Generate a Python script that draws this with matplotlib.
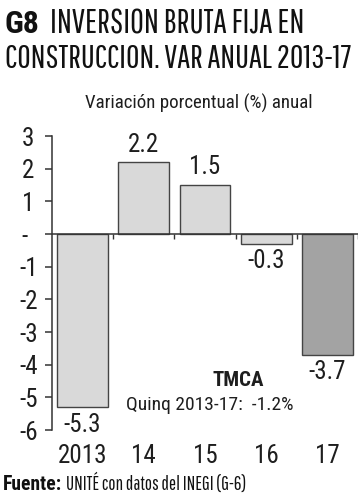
import matplotlib
matplotlib.use("Agg")
import matplotlib.pyplot as plt
import numpy as np

plt.rcParams['font.family'] = ['Roboto Condensed', 'DejaVu Sans']

years = ["2013", "14", "15", "16", "17"]
values = [-5.3, 2.2, 1.5, -0.3, -3.7]
colors = ["#d9d9d9", "#d9d9d9", "#d9d9d9", "#d9d9d9", "#a3a3a3"]
yticks = [3, 2, 1, 0, -1, -2, -3, -4, -5, -6]
ytick_labels = ["3", "2", "1", "- ", "-1", "-2", "-3", "-4", "-5", "-6"]

title_1 = "INVERSION BRUTA FIJA EN"
title_2 = "CONSTRUCCION. VAR ANUAL 2013-17"
subtitle = "Variación porcentual (%) anual"
note_head = "TMCA"
note_body = "Quinq 2013-17:  -1.2%"
source_rest = "UNITÉ con datos del INEGI (G-6)"

W, H = 363, 500
fig = plt.figure(figsize=(W / 100, H / 100), dpi=100)
ax = fig.add_axes([52 / W, 1 - 430 / H, 306 / W, 294 / H])

dark = "#333333"
ink = "#1e1e1e"
narrow = ["Pathway Gothic One", "DejaVu Sans"]

x = np.arange(len(years))
ax.bar(x, values, width=0.83, color=colors, edgecolor="#444444", linewidth=1.0, zorder=2)

ax.set_xlim(-0.5, len(years) - 0.5)
ax.set_ylim(-6, 3)
for s in ["top", "right", "bottom"]:
    ax.spines[s].set_visible(False)
ax.spines["left"].set_color(dark)
ax.spines["left"].set_linewidth(1.1)

ax.axhline(0, color=dark, linewidth=1.1, zorder=3)
ax.vlines(x + 0.5, -0.15, 0, color=dark, linewidth=1.0, zorder=3)

ax.set_yticks(yticks)
ax.set_yticklabels(ytick_labels, fontsize=18, color=ink, ha="center")
ax.tick_params(axis="y", direction="out", length=5, width=1.1, color=dark, pad=12)
ax.set_xticks(x)
ax.set_xticklabels(years, fontsize=18, color=ink)
ax.tick_params(axis="x", length=0, pad=10)

for xi, v in zip(x, values):
    if v >= 0:
        ax.annotate(f"{v:.1f}", (xi, v), xytext=(0, 4), textcoords="offset points",
                    ha="center", va="bottom", fontsize=18, color=ink)
    else:
        ax.annotate(f"{v:.1f}", (xi, v), xytext=(0, -4), textcoords="offset points",
                    ha="center", va="top", fontsize=18, color=ink)

fig.text(238 / W, 1 - 380 / H, note_head, ha="center", va="center",
         fontsize=15, fontweight="bold", color=ink)
fig.text(210 / W, 1 - 405 / H, note_body, ha="center", va="center",
         fontsize=14, color=ink)

# texts sized to the reference widths
renderer = fig.canvas.get_renderer()


def fit(t, width_px):
    bb = t.get_window_extent(renderer=renderer)
    t.set_fontsize(t.get_fontsize() * width_px / bb.width)


g8 = fig.text(5 / W, 1 - 33 / H, "G8", fontsize=24, fontweight="bold",
              color="#111111", va="baseline")
fit(g8, 35)
t1 = fig.text(50 / W, 1 - 33 / H, title_1, fontsize=24, family=narrow, color="#111111", va="baseline")
fit(t1, 255)
t2 = fig.text(5 / W, 1 - 68 / H, title_2, fontsize=24, family=narrow, color="#111111", va="baseline")
fit(t2, 347)

sub = fig.text(199 / W, 1 - 103 / H, subtitle, fontsize=16, color=ink, ha="center", va="center")
fit(sub, 228)

src = fig.text(3 / W, 1 - 484 / H, "Fuente:", fontsize=15, fontweight="bold",
               color="#111111", va="center")
fit(src, 59)
src2 = fig.text(66 / W, 1 - 484 / H, source_rest, fontsize=15, family=narrow,
                color="#111111", va="center")
fit(src2, 182)

fig.savefig("out.png", dpi=100)
